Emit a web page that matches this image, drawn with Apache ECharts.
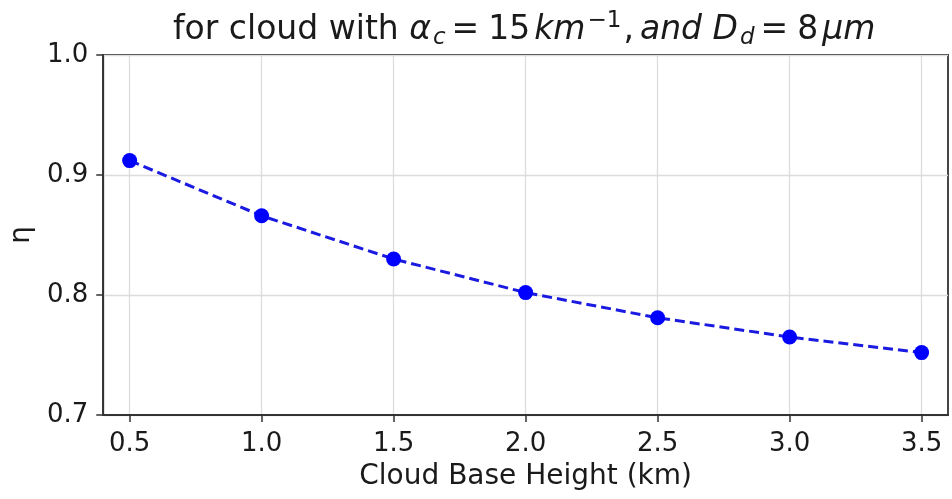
<!DOCTYPE html>
<html><head><meta charset="utf-8">
<script src="https://cdn.jsdelivr.net/npm/echarts@6/dist/echarts.min.js"></script>
<style>html,body{margin:0;padding:0;background:#fff}#c{width:952px;height:499px}</style>
</head><body><div id="c"></div>
<script>
const heights = [0.5, 1.0, 1.5, 2.0, 2.5, 3.0, 3.5];
const eta = [0.912, 0.866, 0.830, 0.802, 0.781, 0.765, 0.752];
const xTicks = [0.5, 1.0, 1.5, 2.0, 2.5, 3.0, 3.5];
const yTicks = [0.7, 0.8, 0.9, 1.0];

const F = 'DejaVu Sans';
const C = '#1a1a1a';
const chart = echarts.init(document.getElementById('c'));
const tick = {show: true, length: 7, inside: false, lineStyle: {color: '#333', width: 1.5}};
const T = 33, S = 23;
chart.setOption({
  animation: false,
  backgroundColor: '#fff',
  title: {
    text: 'for cloud with {i|α}{sub|c}{eq|=}{n|15}{i|km}{sup|−1}{cm|,}{i|and D}{sub|d}{eq|=}{n|8}{i|μm}',
    left: 168, top: 5, textAlign: 'left',
    textStyle: {
      fontFamily: F, fontSize: T, color: C, fontWeight: 'normal', lineHeight: 40,
      rich: {
        i: {fontFamily: F, fontSize: T, fontStyle: 'italic', color: C, lineHeight: 40, padding: [0, 2, 0, 0]},
        n: {fontFamily: F, fontSize: T, color: C, lineHeight: 40, padding: [0, 4, 0, 0]},
        cm: {fontFamily: F, fontSize: T, color: C, lineHeight: 40, padding: [0, 6, 0, 2]},
        eq: {fontFamily: F, fontSize: T, color: C, lineHeight: 40, padding: [0, 9, 0, 6]},
        sub: {fontFamily: F, fontSize: S, fontStyle: 'italic', color: C, lineHeight: 40, verticalAlign: 'bottom', padding: [14, 0, 0, 0]},
        sup: {fontFamily: F, fontSize: S, color: C, lineHeight: 40, verticalAlign: 'top', padding: [0, 0, 14, 0]}
      }
    }
  },
  grid: {left: 101, right: 4, top: 55, bottom: 84, show: true, borderColor: '#333', borderWidth: 1.8, backgroundColor: 'transparent'},
  xAxis: {
    type: 'value', min: 0.4, max: 3.6,
    name: 'Cloud Base Height (km)', nameLocation: 'middle', nameGap: 48,
    nameTextStyle: {fontFamily: F, fontSize: 28, color: C},
    axisLine: {show: true, onZero: false, lineStyle: {color: '#333', width: 1.8}},
    axisTick: Object.assign({customValues: xTicks}, tick),
    axisLabel: {customValues: xTicks, fontFamily: F, fontSize: 26, color: C, margin: 16, formatter: v => v.toFixed(1)},
    splitLine: {show: true, lineStyle: {color: '#dcdcdc', width: 1.3}}
  },
  yAxis: {
    type: 'value', min: 0.7, max: 1.0, interval: 0.1,
    name: 'η', nameLocation: 'middle', nameGap: 63, nameRotate: 90,
    nameTextStyle: {fontFamily: F, fontSize: 28, color: C},
    axisLine: {show: true, lineStyle: {color: '#333', width: 1.8}},
    axisTick: tick,
    axisLabel: {fontFamily: F, fontSize: 26, color: C, margin: 15, formatter: v => v.toFixed(1)},
    splitLine: {show: true, lineStyle: {color: '#dcdcdc', width: 1.3}}
  },
  series: [{
    type: 'line',
    data: heights.map((h, i) => [h, eta[i]]),
    symbol: 'circle', symbolSize: 15,
    itemStyle: {color: '#0000ff'},
    lineStyle: {color: '#1a1ae0', width: 3, type: [10, 5]},
    z: 5
  }]
});
</script></body></html>
